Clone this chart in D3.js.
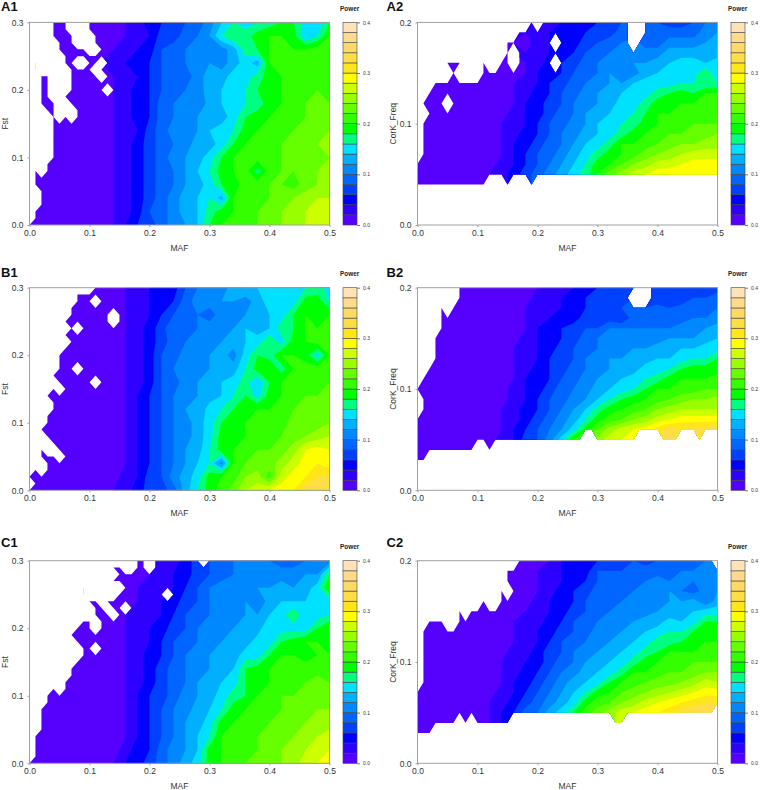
<!DOCTYPE html>
<html>
<head>
<meta charset="utf-8">
<script src="https://cdn.jsdelivr.net/npm/d3@7"></script>
<style>
  html, body { margin: 0; padding: 0; background: #fff; }
  text { font-family: "Liberation Sans", Arial, sans-serif; }
</style>
</head>
<body>
<svg id="chart" width="760" height="790"></svg>
<script>
// DATA: power in hundredths, one row per y value from top to bottom, one column per MAF 0, .02 ... .5
const mafTicks = [0, 0.1, 0.2, 0.3, 0.4, 0.5];
const fstTicks = [0, 0.1, 0.2, 0.3];
const corkTicks = [0, 0.1, 0.2];
const powerTicks = [0, 0.1, 0.2, 0.3, 0.4];
const powerLevels = [0, 2, 4, 6, 8, 10, 12, 14, 16, 18, 20, 22, 24, 26, 28, 30, 32, 34, 36, 38, 40];
const bandColors = ["#5500ff", "#2e00ff", "#0000ff", "#0040ff", "#0066ff", "#0088ff", "#00b0ff", "#00e0ff", "#00ff80", "#00ff00",
  "#33ff00", "#66ff00", "#99ff00", "#ccff00", "#ffff00", "#ffe619", "#ffdd44", "#ffd966", "#ffd98c", "#ffe2b8"];

const a1Power = [
  [1,1,1,1,1,1,1,1,2,3,5,6,7,8,9,11,14,16,15,16,17,18,18,15,14,18],
  [1,1,1,1,1,1,1,1,2,3,4,7,7,9,10,12,16,18,17,19,20,20,19,14,16,20],
  [1,1,1,1,1,1,1,2,3,4,5,8,9,10,11,10,11,13,17,18,20,21,20,20,21,21],
  [1,1,1,1,1,1,2,3,4,5,6,8,8,10,10,12,11,13,15,13,20,20,21,20,21,20],
  [1,1,1,1,1,1,1,2,3,4,6,8,10,9,11,13,13,15,15,17,19,20,20,21,21,21],
  [1,1,1,1,1,1,1,2,3,5,6,8,9,10,11,13,14,15,16,18,19,20,20,21,22,21],
  [1,1,1,1,1,1,1,2,3,5,6,9,10,11,10,13,14,15,16,17,19,20,21,22,23,22],
  [1,1,1,1,1,1,1,2,3,5,6,9,10,11,12,13,13,15,18,19,20,21,21,22,24,23],
  [1,1,1,1,1,1,1,2,3,4,7,9,11,11,12,14,15,16,19,20,20,21,22,22,23,24],
  [1,1,1,1,1,1,1,2,3,5,7,9,10,11,13,13,15,18,20,20,21,22,22,23,24,25],
  [1,1,1,1,1,1,1,2,3,5,7,9,11,12,13,15,18,20,20,21,21,22,22,23,23,24],
  [1,1,1,1,1,1,1,2,3,5,7,9,10,12,14,16,19,20,21,17,21,22,22,23,24,25],
  [1,1,1,1,1,1,1,2,3,5,7,9,10,12,13,15,18,19,21,21,22,22,21,23,24,25],
  [1,1,1,1,1,1,1,2,3,5,7,9,11,13,14,16,13,20,21,21,22,23,24,25,26,26],
  [1,1,1,1,1,1,1,2,3,5,8,9,11,13,14,17,19,20,21,22,22,24,25,26,28,27],
  [1,1,1,1,1,1,1,2,4,6,7,9,11,12,14,18,20,21,21,22,23,24,25,26,27,28]
];
const b1Power = [
  [1,1,1,1,1,1,1,1,2,3,4,5,5,8,10,12,11,13,14,14,15,15,15,16,17,15],
  [1,1,1,1,1,1,1,1,2,3,4,5,6,9,11,11,12,12,11,13,15,15,15,19,19,16],
  [1,1,1,1,1,1,1,1,2,3,4,6,8,8,10,9,11,11,12,13,14,15,18,20,19,20],
  [1,1,1,1,1,1,1,1,2,3,5,7,10,9,10,11,11,12,14,13,14,17,18,20,20,21],
  [1,1,1,1,1,1,1,1,2,3,5,7,9,10,11,11,12,13,14,15,18,15,19,20,21,20],
  [1,1,1,1,1,1,1,1,2,3,5,8,9,11,10,12,13,11,15,18,17,20,20,19,15,20],
  [1,1,1,1,1,1,1,1,2,3,5,8,10,10,11,12,13,13,16,19,20,17,20,21,21,21],
  [1,1,1,1,1,1,1,1,2,3,5,8,9,11,12,13,14,15,17,14,18,20,21,21,21,22],
  [1,1,1,1,1,1,1,1,2,4,6,8,10,10,12,13,14,16,18,15,19,20,21,22,22,23],
  [1,1,1,1,1,1,1,1,2,4,6,8,10,12,12,15,16,18,19,20,20,21,22,23,24,22],
  [1,1,1,1,1,1,1,1,2,4,6,8,10,11,13,15,18,19,20,20,20,21,23,23,23,24],
  [1,1,1,1,1,1,1,1,2,4,6,8,10,11,13,15,19,19,20,21,21,22,23,24,25,26],
  [1,1,1,1,1,1,1,1,2,4,6,8,10,12,13,16,19,20,20,22,22,23,25,28,29,28],
  [1,1,1,1,1,1,1,1,2,4,6,8,10,12,14,16,11,20,22,23,23,25,27,29,30,28],
  [1,1,1,1,1,1,1,1,3,4,7,8,11,13,15,19,20,21,24,25,21,27,29,30,32,33],
  [1,1,1,1,1,1,1,2,3,5,7,7,9,13,16,19,21,23,26,27,28,29,30,33,33,34]
];
const c1Power = [
  [1,1,1,1,1,1,1,1,1,1,2,2,3,5,7,8,9,10,10,10,10,9,9,10,10,11],
  [1,1,1,1,1,1,1,1,1,1,2,3,4,5,7,8,9,10,10,10,11,11,11,12,12,18],
  [1,1,1,1,1,1,1,1,1,2,2,3,4,6,8,10,11,12,11,12,12,13,12,13,15,20],
  [1,1,1,1,1,1,1,1,1,2,3,4,5,7,8,10,10,11,12,10,13,14,14,14,14,15],
  [1,1,1,1,1,1,1,1,2,2,3,4,6,8,9,10,11,10,12,12,14,15,18,14,15,16],
  [1,1,1,1,1,1,1,1,2,3,4,5,7,8,10,11,11,12,13,13,16,15,15,15,18,20],
  [1,1,1,1,1,1,1,1,2,3,4,6,8,9,10,11,12,13,13,15,15,18,19,20,20,19],
  [1,1,1,1,1,1,1,1,2,3,5,6,8,10,10,12,12,13,15,15,18,20,20,19,20,20],
  [1,1,1,1,1,1,1,1,2,3,5,7,9,10,11,12,13,14,18,19,20,20,21,21,21,20],
  [1,1,1,1,1,1,1,1,2,3,5,7,9,10,12,13,14,15,18,19,20,21,21,22,23,22],
  [1,1,1,1,1,1,1,1,2,4,6,7,9,11,12,13,15,17,18,20,21,22,22,23,23,23],
  [1,1,1,1,1,1,1,1,2,4,6,8,10,11,13,14,16,19,20,20,21,22,23,23,24,24],
  [1,1,1,1,1,1,1,1,2,4,6,8,10,12,13,15,19,20,20,21,22,22,23,24,24,25],
  [1,1,1,1,1,1,1,1,2,4,6,8,10,12,14,16,20,20,21,22,22,23,24,25,26,27],
  [1,1,1,1,1,1,1,1,3,5,6,9,11,12,14,19,20,21,21,22,23,24,25,26,27,28],
  [1,1,1,1,1,1,1,2,4,5,7,9,11,13,15,19,20,21,22,22,23,24,25,27,28,28]
];
const a2Power = [
  [1,1,1,1,1,1,1,1,1,2,2,3,4,5,5,6,7,8,8,9,8,7,7,8,10,11],
  [1,1,1,1,1,1,1,1,2,2,3,4,4,5,6,7,7,9,9,9,8,9,9,9,11,12],
  [1,1,1,1,1,1,1,1,2,1,3,4,5,5,7,8,9,10,11,9,9,11,11,11,12,13],
  [1,1,1,1,1,1,1,1,2,2,3,4,5,6,8,9,10,11,10,11,11,13,13,13,12,13],
  [1,1,1,1,1,1,1,1,1,2,3,5,6,7,9,10,10,11,12,12,13,14,15,15,14,15],
  [1,1,1,1,1,1,1,1,1,2,4,5,6,8,9,10,12,11,11,13,14,14,15,15,18,14],
  [1,1,1,1,1,1,1,1,2,3,4,6,7,9,10,11,12,12,14,15,15,15,16,16,16,16],
  [1,1,1,1,1,1,1,1,2,3,5,6,8,9,11,12,13,14,14,15,17,18,19,18,20,20],
  [1,1,1,1,1,1,1,1,2,4,5,7,8,10,11,12,13,15,15,17,19,19,20,20,21,21],
  [1,1,1,1,1,1,1,1,3,4,5,7,9,10,12,13,14,15,16,18,20,20,21,21,21,21],
  [1,1,1,1,1,1,1,2,3,4,6,8,9,11,12,14,15,16,17,19,20,21,21,22,22,22],
  [1,1,1,1,1,1,1,2,3,5,6,8,10,11,13,14,15,17,19,20,21,22,22,23,23,24],
  [1,1,1,1,1,1,1,2,4,5,7,9,10,12,14,15,17,20,20,21,22,23,24,24,25,25],
  [1,1,1,1,1,1,1,2,4,6,8,9,11,13,15,17,19,20,21,23,24,25,26,27,27,27],
  [1,1,1,1,1,1,1,3,4,6,8,10,12,14,16,19,20,22,24,25,27,27,28,29,29,29],
  [1,1,1,1,1,1,2,3,5,7,9,11,13,15,17,20,23,25,27,28,29,30,30,30,30,30],
  [1,1,1,1,1,1,2,3,5,7,9,11,13,15,17,20,23,25,27,28,29,30,30,30,30,30],
  [1,1,1,1,1,1,2,3,5,7,9,11,13,15,17,20,23,25,27,28,29,30,30,30,30,30]
];
const b2Power = [
  [1,1,1,1,1,1,1,1,1,1,2,3,3,4,5,6,6,6,7,7,6,6,6,7,7,7],
  [1,1,1,1,1,1,1,1,1,1,3,3,4,5,6,6,7,6,8,7,6,6,6,8,8,9],
  [1,1,1,1,1,1,1,1,1,2,2,3,4,5,6,7,8,8,8,8,9,8,9,8,8,10],
  [1,1,1,1,1,1,1,1,1,2,3,4,5,5,7,7,7,6,9,9,8,9,9,10,10,11],
  [1,1,1,1,1,1,1,1,1,2,4,5,6,7,8,8,10,10,10,10,10,10,11,10,12,13],
  [1,1,1,1,1,1,1,1,1,3,4,5,6,7,9,10,10,10,11,11,11,12,12,12,13,14],
  [1,1,1,1,1,1,1,1,2,3,4,5,7,8,9,10,11,11,12,12,13,13,14,14,15,15],
  [1,1,1,1,1,1,1,1,2,3,4,6,7,8,10,11,12,12,14,13,14,14,15,16,16,18],
  [1,1,1,1,1,1,1,1,2,3,5,6,7,9,10,11,12,13,13,15,15,16,18,19,19,19],
  [1,1,1,1,1,1,1,1,2,4,5,6,8,9,11,12,13,14,15,16,17,19,20,20,20,21],
  [1,1,1,1,1,1,1,1,3,4,5,7,9,10,11,13,14,15,16,18,20,20,21,21,22,22],
  [1,1,1,1,1,1,1,1,3,4,6,8,9,11,12,14,16,18,19,20,21,22,23,24,24,25],
  [1,1,1,1,1,1,1,2,3,5,6,8,10,12,14,17,19,20,21,22,24,25,26,26,26,26],
  [1,1,1,1,1,1,1,2,3,5,7,9,11,13,16,19,21,22,24,25,27,28,29,29,29,29],
  [1,1,1,1,1,1,1,2,4,6,8,10,12,15,19,22,25,27,28,29,31,33,32,33,33,34],
  [1,1,1,1,1,1,1,3,4,7,8,11,15,20,23,25,27,28,29,30,32,35,33,33,33,33],
  [1,1,1,1,1,1,1,3,4,7,8,11,15,20,23,25,27,28,29,30,32,35,33,33,33,33],
  [1,1,1,1,1,1,1,3,4,7,8,11,15,20,23,25,27,28,29,30,32,35,33,33,33,33]
];
const c2Power = [
  [1,1,1,1,1,1,1,1,1,1,1,2,4,5,5,6,7,7,8,7,8,8,8,9,10,12],
  [1,1,1,1,1,1,1,1,1,1,2,3,4,5,5,8,8,8,8,9,9,9,10,10,11,11],
  [1,1,1,1,1,1,1,1,1,1,2,3,4,5,6,8,9,9,9,10,11,10,11,10,11,11],
  [1,1,1,1,1,1,1,1,1,1,2,3,5,6,7,9,10,9,10,12,11,12,10,9,11,12],
  [1,1,1,1,1,1,1,1,1,1,3,4,5,6,8,9,9,10,11,11,11,12,12,13,10,13],
  [1,1,1,1,1,1,1,1,1,2,3,4,5,7,8,9,10,10,11,11,12,12,13,14,15,15],
  [1,1,1,1,1,1,1,1,2,2,3,5,6,8,9,10,11,11,12,13,13,15,14,15,18,18],
  [1,1,1,1,1,1,1,1,2,2,4,5,7,8,9,11,11,12,13,14,15,16,16,18,19,18],
  [1,1,1,1,1,1,1,1,2,3,4,6,8,9,10,11,12,13,14,15,17,17,18,19,20,20],
  [1,1,1,1,1,1,1,1,3,3,5,7,8,10,11,12,13,14,15,17,18,20,20,20,21,21],
  [1,1,1,1,1,1,1,2,3,4,5,7,9,10,12,13,14,15,17,19,20,21,21,22,22,22],
  [1,1,1,1,1,1,1,2,3,5,6,8,10,11,13,14,15,17,20,20,21,22,22,23,24,24],
  [1,1,1,1,1,1,1,2,4,5,7,9,11,13,14,15,18,20,21,22,23,23,24,25,27,26],
  [1,1,1,1,1,1,1,3,4,6,8,10,12,14,16,19,20,22,23,24,25,26,27,28,29,29],
  [1,1,1,1,1,1,2,3,5,7,9,11,13,15,19,21,22,24,25,27,28,29,30,31,32,32],
  [1,1,1,1,1,1,2,4,6,9,10,13,15,18,21,23,25,27,28,29,30,31,33,34,35,33],
  [1,1,1,1,1,1,2,4,6,9,10,13,15,18,21,23,25,27,28,29,30,31,33,34,35,33],
  [1,1,1,1,1,1,2,4,6,9,10,13,15,18,21,23,25,27,28,29,30,31,33,34,35,33]
];

// cells with no value: one row per .01 of y from top to bottom, [from, to] MAF in hundredths
const a1Missing = [
  [[0,3],[7,9]], [[0,3],[7,9]], [[0,3],[8,10]], [[0,4],[8,10]], [[0,4],[10,11]], [[0,5]],
  [[0,0],[2,5],[8,9],[12,12]], [[0,0],[2,6],[11,11]], [[0,1],[4,6],[12,12]], [[0,1],[4,6]],
  [[0,1],[4,6],[13,13]], [[0,1],[4,5]], [[0,1],[5,6]], [[0,2],[5,7]], [[0,3],[5,5],[7,7]], [[0,3]],
  [[0,3]], [[0,3]], [[0,3]], [[0,3]], [[0,3]], [[0,2]], [[0,0],[2,2]], [[0,0]], [[0,0]],
  [[0,1]], [[0,1]], [[0,1]], [[0,0]], [[0,0]], []
];
const b1Missing = [
  [[0,10]], [[0,7]], [[0,7],[11,11]], [[0,6]], [[0,6],[14,14]], [[0,5],[14,14]],
  [[0,6],[8,8]], [[0,5]], [[0,6]], [[0,5]], [[0,4]], [[0,4]], [[0,4],[8,8]], [[0,3]],
  [[0,4],[11,11]], [[0,3],[5,5]], [[0,2]], [[0,3]], [[0,3]], [[0,2]], [[0,2]], [[0,1]],
  [[0,2]], [[0,3]], [[0,1],[3,4]], [[0,1],[5,5]], [[0,2]], [[0,0],[2,2]], [], [[0,0]], []
];
const c1Missing = [
  [[0,17],[20,20],[29,29]], [[0,13],[16,17],[20,20]], [[0,12],[14,14]], [[0,9],[11,13]],
  [[0,8],[10,15]], [[0,8],[10,14],[23,23]], [[0,9],[12,12]], [[0,10],[13,13],[16,16]],
  [[0,10],[14,14]], [[0,8],[11,11]], [[0,7],[11,11]], [[0,6]], [[0,7]], [[0,8],[11,11]],
  [[0,8]], [[0,7]], [[0,6]], [[0,6]], [[0,5]], [[0,3],[5,5]], [[0,2]], [[0,2]], [[0,1]],
  [[0,1]], [[0,1]], [[0,1]], [[0,0]], [[0,0]], [[0,0]], [[0,0]], []
];
const a2Missing = [
  [[0,18],[20,20],[36,37]], [[0,16],[36,37]], [[0,14],[23,23],[36,36]], [[0,14],[16,16]],
  [[0,4],[8,10],[12,13],[16,16],[23,23]], [[0,5],[7,10]], [[0,2]], [[0,1]], [[0,0],[5,5]],
  [[0,1]], [[0,0]], [[0,0]], [[0,0]], [[0,0]], [], [],
  [[12,14],[16,18],[20,50]], [[0,50]], [[0,50]], [[0,50]], [[0,50]]
];
const b2Missing = [
  [[0,6],[37,38]], [[0,6],[36,38]], [[0,3],[5,5]], [[0,3]], [[0,3]], [[0,2]], [[0,2]],
  [[0,2]], [[0,1]], [[0,0]], [], [[0,0]], [[0,0]], [], [],
  [[28,29],[37,40],[44,46],[48,50]], [[10,11],[13,50]], [[2,50]], [[0,50]], [[0,50]], [[0,50]]
];
const c2Missing = [
  [[0,16],[50,50]], [[0,14]], [[0,14]], [[0,13],[15,15]], [[0,10],[12,13]], [[0,6],[8,8]],
  [[0,1],[5,6]], [[0,0]], [[0,0]], [[0,0]], [[0,0]], [[0,0]], [[0,0]], [], [],
  [[50,50]], [[7,7],[9,9],[16,32],[35,50]], [[3,50]], [[0,50]], [[0,50]], [[0,50]]
];

// CONSTANT VARIABLES: DIMENSIONS
const PLOT_WIDTH = 300;
const PLOT_HEIGHT = 202.6;
const COLUMNS = [{left: 29.5, bar: 343, title: 1, power: 340, axisLabel: 5},
                 {left: 417.5, bar: 731, title: 386.5, power: 728, axisLabel: 393}];
const ROWS = [{top: 22.4, title: 11, power: 10.5},
              {top: 287.7, title: 277, power: 276},
              {top: 560.7, title: 547, power: 549}];
const BAR_WIDTH = 14;
const INK = "#333";
const FRAME = "#a0a0a0";

const panels = [
  {name: "A1", col: 0, row: 0, power: a1Power, missing: a1Missing, label: "Fst", yMax: 0.3, ticks: fstTicks, powerBottom: 0},
  {name: "A2", col: 1, row: 0, power: a2Power, missing: a2Missing, label: "CorK_Freq", yMax: 0.2, ticks: corkTicks, powerBottom: 0.03},
  {name: "B1", col: 0, row: 1, power: b1Power, missing: b1Missing, label: "Fst", yMax: 0.3, ticks: fstTicks, powerBottom: 0},
  {name: "B2", col: 1, row: 1, power: b2Power, missing: b2Missing, label: "CorK_Freq", yMax: 0.2, ticks: corkTicks, powerBottom: 0.03},
  {name: "C1", col: 0, row: 2, power: c1Power, missing: c1Missing, label: "Fst", yMax: 0.3, ticks: fstTicks, powerBottom: 0},
  {name: "C2", col: 1, row: 2, power: c2Power, missing: c2Missing, label: "CorK_Freq", yMax: 0.2, ticks: corkTicks, powerBottom: 0.03}
];

const svg = d3.select("#chart");

// d3.contours puts value i at i + 0.5 of its grid
const gridPath = (gridX, gridY) => d3.geoPath(d3.geoTransform({
  point(px, py) { this.stream.point(gridX(px), gridY(py)); }
}));

const maskGrid = (missing) => {
  const cells = [];
  missing.forEach(row => {
    for (let u = 0; u <= 50; u++) {
      cells.push(row.some(r => u >= r[0] && u <= r[1]) ? 0 : 1);
    }
  });
  return cells;
};

const styleAxis = (g, fontSize, color) => {
  g.select(".domain").remove();
  g.selectAll("line").attr("stroke", color);
  g.selectAll("text").attr("font-size", fontSize).attr("fill", INK);
};

const drawPanel = (p) => {
  const col = COLUMNS[p.col];
  const row = ROWS[p.row];
  const g = svg.append("g").attr("transform", `translate(${col.left},${row.top})`);

  const x = d3.scaleLinear().domain([0, 0.5]).range([0, PLOT_WIDTH]);
  const y = d3.scaleLinear().domain([0, p.yMax]).range([PLOT_HEIGHT, 0]);

  g.append("clipPath").attr("id", `${p.name}_rect`)
    .append("rect").attr("width", PLOT_WIDTH).attr("height", PLOT_HEIGHT);

  // white holes: keep only where the mask grid has values
  const maskRows = p.missing.length;
  const maskPath = gridPath(
    d3.scaleLinear().domain([0.5, 50.5]).range([x(0), x(0.5)]),
    d3.scaleLinear().domain([0.5, maskRows - 0.5]).range([y(p.yMax), y(0)])
  );
  const maskContour = d3.contours().size([51, maskRows]).thresholds([0.99])(maskGrid(p.missing));
  g.append("clipPath").attr("id", `${p.name}_mask`)
    .append("path").attr("d", maskPath(maskContour[0]));

  // filled contour bands
  const rows = p.power.length;
  const cols = p.power[0].length;
  const bandPath = gridPath(
    d3.scaleLinear().domain([0.5, cols - 0.5]).range([x(0), x(0.5)]),
    d3.scaleLinear().domain([0.5, rows - 0.5]).range([y(p.yMax), y(p.powerBottom)])
  );
  const bands = d3.contours().size([cols, rows]).thresholds(powerLevels.slice(0, -1))(p.power.flat());

  g.append("g").attr("clip-path", `url(#${p.name}_rect)`)
    .append("g").attr("clip-path", `url(#${p.name}_mask)`)
    .selectAll("path")
    .data(bands)
    .join("path")
    .attr("d", bandPath)
    .attr("fill", (_, i) => bandColors[i]);

  // frame and axes
  g.append("rect")
    .attr("width", PLOT_WIDTH).attr("height", PLOT_HEIGHT)
    .attr("fill", "none").attr("stroke", FRAME).attr("stroke-width", 1);

  g.append("g").attr("transform", `translate(0,${PLOT_HEIGHT})`)
    .call(d3.axisBottom(x).tickValues(mafTicks).tickFormat(d3.format(".1f")).tickSize(2).tickPadding(3))
    .call(styleAxis, 8.5, FRAME);

  g.append("g")
    .call(d3.axisLeft(y).tickValues(p.ticks).tickFormat(d3.format(".1f")).tickSize(2).tickPadding(4))
    .call(styleAxis, 8.5, FRAME);

  g.append("text").attr("x", PLOT_WIDTH / 2).attr("y", PLOT_HEIGHT + 26)
    .attr("text-anchor", "middle").attr("font-size", 8.5).attr("fill", INK).text("MAF");

  svg.append("text")
    .attr("transform", `translate(${col.axisLabel + 3},${row.top + PLOT_HEIGHT / 2}) rotate(-90)`)
    .attr("text-anchor", "middle").attr("font-size", 8.5).attr("fill", INK).text(p.label);

  svg.append("text").attr("x", col.title).attr("y", row.title)
    .attr("font-size", 13).attr("font-weight", "bold").attr("fill", "#111").text(p.name);

  // colour bar
  const barY = d3.scaleLinear().domain([0, 40]).range([row.top + PLOT_HEIGHT, row.top]);
  const bar = svg.append("g");
  bar.selectAll("rect")
    .data(bandColors)
    .join("rect")
    .attr("x", col.bar)
    .attr("y", (_, i) => barY(powerLevels[i + 1]))
    .attr("width", BAR_WIDTH)
    .attr("height", (_, i) => barY(powerLevels[i]) - barY(powerLevels[i + 1]))
    .attr("fill", d => d)
    .attr("stroke", "#444").attr("stroke-width", 0.6);

  const powerScale = d3.scaleLinear().domain([0, 0.4]).range([row.top + PLOT_HEIGHT, row.top]);
  svg.append("g").attr("transform", `translate(${col.bar + BAR_WIDTH},0)`)
    .call(d3.axisRight(powerScale).tickValues(powerTicks).tickFormat(d3.format(".1f")).tickSize(3).tickPadding(3))
    .call(styleAxis, 5, "#777");

  svg.append("text").attr("x", col.power).attr("y", row.power)
    .attr("font-size", 6.4).attr("font-weight", "bold").attr("fill", "#222").text("Power");
};

panels.forEach(drawPanel);
</script>
</body>
</html>
